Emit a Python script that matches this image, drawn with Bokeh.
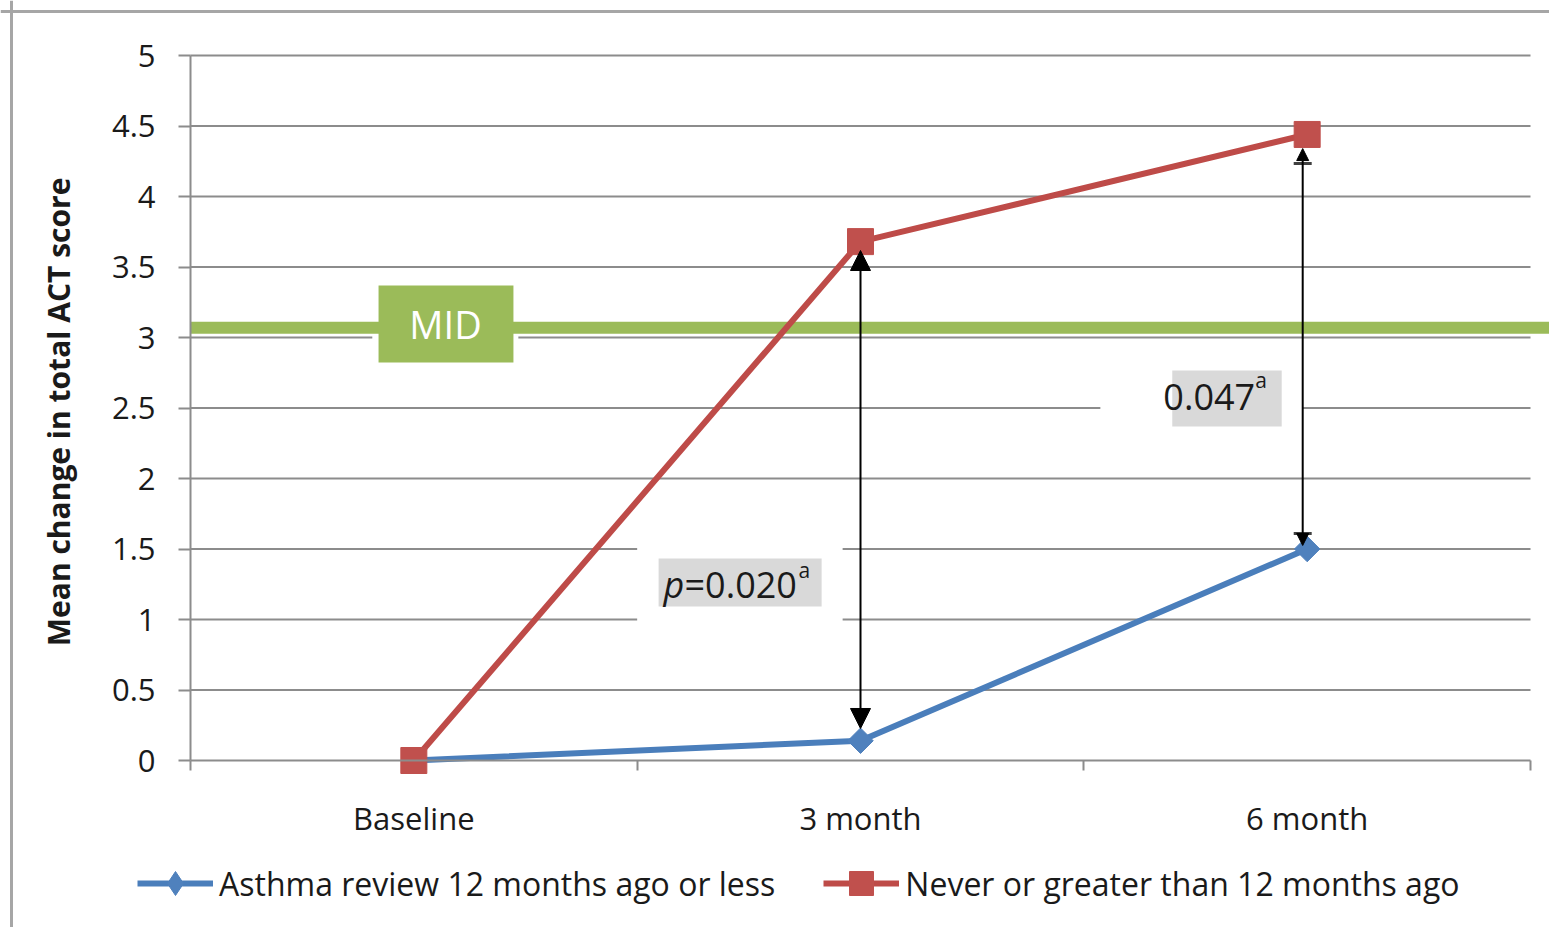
import numpy as np
from bokeh.plotting import figure
from bokeh.models import (LinearAxis, FixedTicker, Range1d, Span, Arrow,
                          NormalHead, TeeHead, Legend, LegendItem)
from bokeh.core.properties import value
from bokeh.embed import file_html
from bokeh.resources import INLINE

# ---------------- data ----------------
categories = ["Baseline", "3 month", "6 month"]
blue_name = "Asthma review 12 months ago or less"
red_name = "Never or greater than 12 months ago"
blue_values = [0.0, 0.14, 1.50]
red_values = [0.0, 3.68, 4.44]
y_ticks = [0, 0.5, 1, 1.5, 2, 2.5, 3, 3.5, 4, 4.5, 5]
y_tick_labels = ["0", "0.5", "1", "1.5", "2", "2.5", "3", "3.5", "4", "4.5", "5"]
y_title = "Mean change in total  ACT score"
mid_value = 3.07
mid_label = "MID"
p_value_1 = "0.020"
p_value_2 = "0.047"

# ---------------- layout / style ----------------
W, H = 1549, 927
FRAME_LEFT, FRAME_RIGHT = 190, 1530      # data area in canvas px
FRAME_ZERO, FRAME_TOP = 760, 55
n_cat = len(categories)
y_max = y_ticks[-1]
xs = (FRAME_RIGHT - FRAME_LEFT) / n_cat
ys = (FRAME_ZERO - FRAME_TOP) / y_max

FONT = "Open Sans"
GRID = "#8C8C8C"
BLUE_LINE, BLUE_FILL = "#4A7EBB", "#4F81BD"
RED_LINE, RED_FILL = "#BE4B48", "#C0504D"
GREEN = "#9BBB59"
BOXGRAY = "#D9D9D9"
TXT = "#1A1A1A"

cat_x = [i + 0.5 for i in range(n_cat)]
bounds_x = list(range(n_cat + 1))

p = figure(width=W, height=H,
           x_range=Range1d(-FRAME_LEFT / xs, (W - FRAME_LEFT) / xs),
           y_range=Range1d(-(H - FRAME_ZERO) / ys, FRAME_ZERO / ys),
           output_backend="svg", toolbar_location=None,
           x_axis_location=None, y_axis_location=None,
           min_border=0, outline_line_color=None)
p.grid.visible = False
p.background_fill_color = "white"
p.border_fill_color = "white"

# outer chart border (left/top visible)
p.add_layout(Span(location=11, location_units="screen", dimension="height",
                  line_color="#A6A6A6", line_width=3))
p.add_layout(Span(location=H - 11, location_units="screen", dimension="width",
                  line_color="#A6A6A6", line_width=3))

# axes
yaxis = LinearAxis(fixed_location=0, bounds=(0, y_max),
                   ticker=FixedTicker(ticks=y_ticks),
                   major_label_overrides={t: l for t, l in zip(y_ticks, y_tick_labels)},
                   axis_label=y_title,
                   axis_line_color=GRID, axis_line_width=2,
                   major_tick_line_color=GRID, major_tick_line_width=2,
                   major_tick_in=0, major_tick_out=12,
                   minor_tick_line_color=None,
                   major_label_standoff=23,
                   major_label_text_font=FONT, major_label_text_font_size="31px",
                   major_label_text_color=TXT,
                   axis_label_text_font=FONT, axis_label_text_font_size="30px",
                   axis_label_text_font_style="bold", axis_label_text_color=TXT,
                   axis_label_standoff=30)
p.add_layout(yaxis, "left")

xaxis_ticks = LinearAxis(fixed_location=0, bounds=(0, n_cat),
                         ticker=FixedTicker(ticks=bounds_x),
                         axis_line_color=GRID, axis_line_width=2,
                         major_tick_line_color=GRID, major_tick_line_width=2,
                         major_tick_in=0, major_tick_out=10,
                         minor_tick_line_color=None,
                         major_label_text_color=None)
p.add_layout(xaxis_ticks, "below")

xaxis_labels = LinearAxis(fixed_location=0,
                          ticker=FixedTicker(ticks=cat_x),
                          major_label_overrides={x: c for x, c in zip(cat_x, categories)},
                          axis_line_color=None, major_tick_line_color=None,
                          minor_tick_line_color=None,
                          major_label_standoff=30,
                          major_label_text_font=FONT, major_label_text_font_size="31px",
                          major_label_text_color=TXT)
p.add_layout(xaxis_labels, "below")

# horizontal gridlines
grid_y = y_ticks[1:]
p.segment(x0=[0] * len(grid_y), x1=[n_cat] * len(grid_y), y0=grid_y, y1=grid_y,
          line_color=GRID, line_width=2)

# white text-box backgrounds that interrupt gridlines
p.quad(left=[1.0, 2.037, 0.407], right=[1.46, 2.49, 0.734],
       bottom=[0.92, 2.06, 2.787], top=[1.56, 2.90, 3.404],
       fill_color="white", line_color=None)

# MID line and box
p.ray(x=[0], y=[mid_value], length=0, angle=0, line_color=GREEN, line_width=12)
p.quad(left=[0.421], right=[0.723], bottom=[2.823], top=[3.369],
       fill_color=GREEN, line_color=None)
p.text(x=[0.571], y=[3.099], text=[mid_label], text_align="center",
       text_baseline="middle", text_color="white", text_font=value(FONT),
       text_font_size="38px")

# p-value boxes
P1_X, P1_Y = 1.059, 1.25
P2_X, P2_Y = 2.178, 2.575
p.quad(left=[1.048, 2.198], right=[1.413, 2.443], bottom=[1.092, 2.369],
       top=[1.433, 2.766], fill_color=BOXGRAY, line_color=None)
p.text(x=[P1_X], y=[P1_Y], text=["p"], text_font_style="italic",
       text_font=value(FONT), text_font_size="36px", text_color=TXT,
       text_baseline="alphabetic")
p.text(x=[P1_X], y=[P1_Y], x_offset=21, text=["=" + p_value_1],
       text_font=value(FONT), text_font_size="36px", text_color=TXT,
       text_baseline="alphabetic")
p.text(x=[P1_X], y=[P1_Y], x_offset=135, y_offset=-14, text=["a"],
       text_font=value(FONT), text_font_size="21px", text_color=TXT,
       text_baseline="alphabetic")
p.text(x=[P2_X], y=[P2_Y], text=[p_value_2],
       text_font=value(FONT), text_font_size="36px", text_color=TXT,
       text_baseline="alphabetic")
p.text(x=[P2_X], y=[P2_Y], x_offset=92, y_offset=-17, text=["a"],
       text_font=value(FONT), text_font_size="21px", text_color=TXT,
       text_baseline="alphabetic")

# series
bl = p.line(cat_x, blue_values, line_color=BLUE_LINE, line_width=6)
rl = p.line(cat_x, red_values, line_color=RED_LINE, line_width=6)
# diamond glyph used for the legend (sits hidden beneath the rotated squares)
bm_leg = p.scatter(cat_x, blue_values, marker="diamond", size=22,
                   fill_color=BLUE_FILL, line_color=BLUE_FILL)
bm = p.scatter(cat_x, blue_values, marker="square", angle=np.pi / 4, size=18,
               fill_color=BLUE_FILL, line_color=BLUE_FILL)
rm = p.scatter(cat_x, red_values, marker="square", size=26,
               fill_color=RED_FILL, line_color=RED_FILL)

# difference arrows
p.add_layout(Arrow(x_start=cat_x[1], y_start=3.617, x_end=cat_x[1], y_end=0.227,
                   line_color="black", line_width=2,
                   start=NormalHead(size=20, fill_color="black", line_color="black"),
                   end=NormalHead(size=20, fill_color="black", line_color="black")))
p.add_layout(Arrow(x_start=cat_x[2] - 0.01, y_start=4.234, x_end=cat_x[2] - 0.01, y_end=1.61,
                   line_alpha=0,
                   start=TeeHead(size=18, line_color="#404040", line_width=3),
                   end=TeeHead(size=18, line_color="#404040", line_width=3)))
p.add_layout(Arrow(x_start=cat_x[2] - 0.01, y_start=4.34, x_end=cat_x[2] - 0.01, y_end=1.525,
                   line_color="black", line_width=2,
                   start=NormalHead(size=12, fill_color="black", line_color="black"),
                   end=NormalHead(size=12, fill_color="black", line_color="black")))

# legend
legend = Legend(items=[LegendItem(label=blue_name, renderers=[bl, bm_leg]),
                       LegendItem(label=red_name, renderers=[rl, rm])],
                orientation="horizontal", location=(137, 14),
                glyph_width=76, glyph_height=60, label_standoff=6, spacing=48,
                padding=0, margin=0, border_line_color=None,
                background_fill_alpha=0,
                label_text_font=FONT, label_text_font_size="32px",
                label_text_color=TXT)
p.add_layout(legend)

open("out.html", "w").write(file_html(p, INLINE))
